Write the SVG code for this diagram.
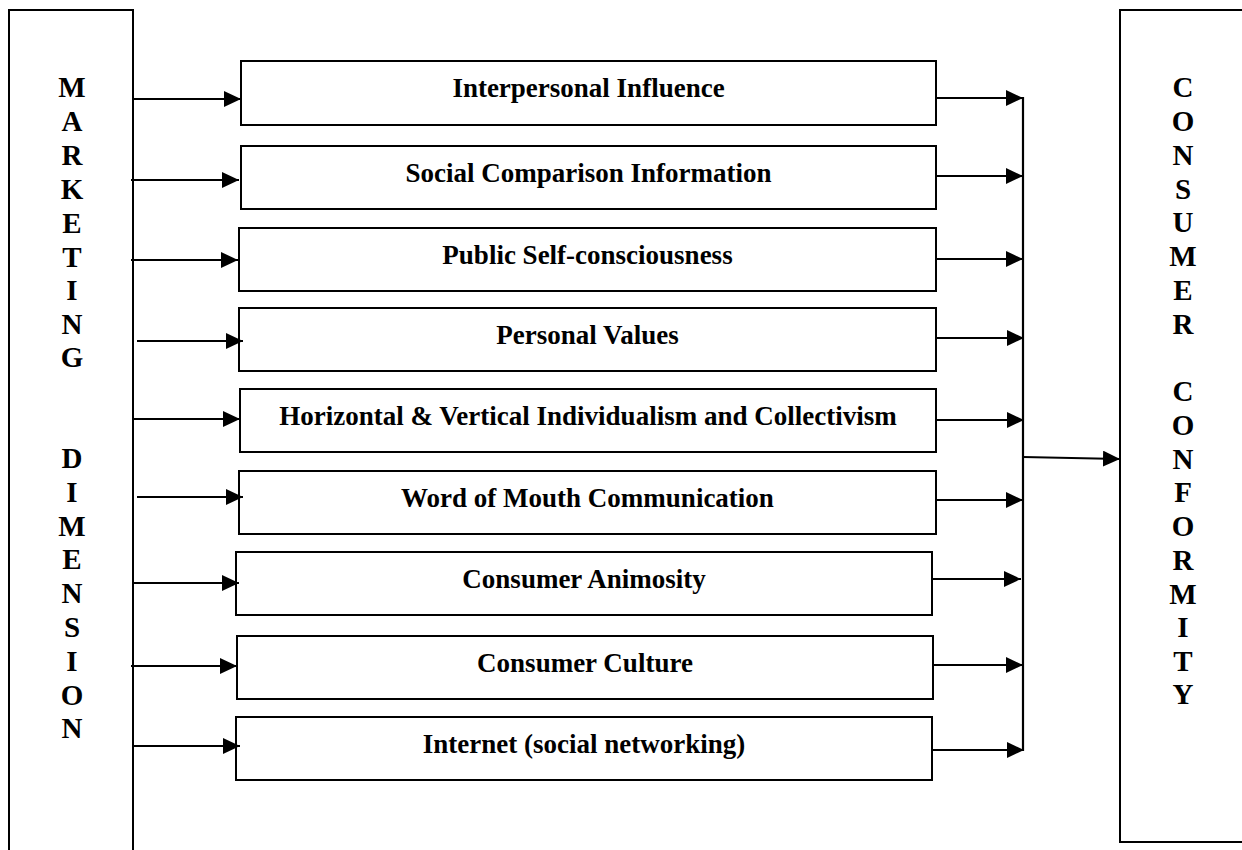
<svg xmlns="http://www.w3.org/2000/svg" width="1242" height="850" viewBox="0 0 1242 850">
  <style>
    .frame { fill: #ffffff; stroke: #000000; stroke-width: 2; }
    .label { font-family: "Liberation Serif", "Times New Roman", serif; font-weight: bold; font-size: 27px; fill: #000000; text-anchor: middle; }
    .col { font-family: "Liberation Serif", "Times New Roman", serif; font-weight: bold; font-size: 29px; fill: #000000; text-anchor: middle; }
    .wire { fill: none; stroke: #000000; stroke-width: 2.2; }
  </style>
  <defs>
    <marker id="arrow" markerUnits="userSpaceOnUse" markerWidth="18" markerHeight="17" refX="17" refY="8" orient="auto">
      <path d="M0,0 L17,8 L0,16 Z" fill="#000000"/>
    </marker>
  </defs>

  <rect width="1242" height="850" fill="#ffffff"/>

  <!-- Source column -->
  <g id="marketing-dimension">
    <rect class="frame" x="9" y="10" width="124" height="850"/>
    <text class="col" x="72" y="97">M</text>
    <text class="col" x="72" y="131">A</text>
    <text class="col" x="72" y="165">R</text>
    <text class="col" x="72" y="199">K</text>
    <text class="col" x="72" y="233">E</text>
    <text class="col" x="72" y="267">T</text>
    <text class="col" x="72" y="300">I</text>
    <text class="col" x="72" y="334">N</text>
    <text class="col" x="72" y="367">G</text>
    <text class="col" x="72" y="468">D</text>
    <text class="col" x="72" y="502">I</text>
    <text class="col" x="72" y="536">M</text>
    <text class="col" x="72" y="569">E</text>
    <text class="col" x="72" y="603">N</text>
    <text class="col" x="72" y="637">S</text>
    <text class="col" x="72" y="671">I</text>
    <text class="col" x="72" y="705">O</text>
    <text class="col" x="72" y="738">N</text>
  </g>

  <!-- Target column -->
  <g id="consumer-conformity">
    <rect class="frame" x="1120" y="10" width="140" height="832"/>
    <text class="col" x="1183" y="97">C</text>
    <text class="col" x="1183" y="131">O</text>
    <text class="col" x="1183" y="165">N</text>
    <text class="col" x="1183" y="199">S</text>
    <text class="col" x="1183" y="232">U</text>
    <text class="col" x="1183" y="266">M</text>
    <text class="col" x="1183" y="300">E</text>
    <text class="col" x="1183" y="334">R</text>
    <text class="col" x="1183" y="401">C</text>
    <text class="col" x="1183" y="435">O</text>
    <text class="col" x="1183" y="469">N</text>
    <text class="col" x="1183" y="502">F</text>
    <text class="col" x="1183" y="536">O</text>
    <text class="col" x="1183" y="570">R</text>
    <text class="col" x="1183" y="604">M</text>
    <text class="col" x="1183" y="637">I</text>
    <text class="col" x="1183" y="671">T</text>
    <text class="col" x="1183" y="704">Y</text>
  </g>

  <!-- Factor boxes -->
  <g id="interpersonal-influence">
    <rect class="frame" x="241" y="61" width="695" height="64"/>
    <text class="label" x="588.5" y="97">Interpersonal Influence</text>
  </g>
  <g id="social-comparison-information">
    <rect class="frame" x="241" y="146" width="695" height="63"/>
    <text class="label" x="588.5" y="182">Social Comparison Information</text>
  </g>
  <g id="public-self-consciousness">
    <rect class="frame" x="239" y="228" width="697" height="63"/>
    <text class="label" x="587.5" y="264">Public Self-consciousness</text>
  </g>
  <g id="personal-values">
    <rect class="frame" x="239" y="308" width="697" height="63"/>
    <text class="label" x="587.5" y="344">Personal Values</text>
  </g>
  <g id="individualism-collectivism">
    <rect class="frame" x="240" y="389" width="696" height="63"/>
    <text class="label" x="588" y="425">Horizontal &amp; Vertical Individualism and Collectivism</text>
  </g>
  <g id="word-of-mouth">
    <rect class="frame" x="239" y="471" width="697" height="63"/>
    <text class="label" x="587.5" y="507">Word of Mouth Communication</text>
  </g>
  <g id="consumer-animosity">
    <rect class="frame" x="236" y="552" width="696" height="63"/>
    <text class="label" x="584" y="588">Consumer Animosity</text>
  </g>
  <g id="consumer-culture">
    <rect class="frame" x="237" y="636" width="696" height="63"/>
    <text class="label" x="585" y="672">Consumer Culture</text>
  </g>
  <g id="internet-social-networking">
    <rect class="frame" x="236" y="717" width="696" height="63"/>
    <text class="label" x="584" y="753">Internet (social networking)</text>
  </g>

  <!-- Connectors -->
  <g id="connectors">
    <line class="wire" x1="133" y1="99" x2="241" y2="99" marker-end="url(#arrow)"/>
    <line class="wire" x1="131" y1="180" x2="239" y2="180" marker-end="url(#arrow)"/>
    <line class="wire" x1="131" y1="260" x2="238" y2="260" marker-end="url(#arrow)"/>
    <line class="wire" x1="137" y1="341" x2="243" y2="341" marker-end="url(#arrow)"/>
    <line class="wire" x1="133" y1="419" x2="240" y2="419" marker-end="url(#arrow)"/>
    <line class="wire" x1="137" y1="497" x2="243" y2="497" marker-end="url(#arrow)"/>
    <line class="wire" x1="133" y1="583" x2="239" y2="583" marker-end="url(#arrow)"/>
    <line class="wire" x1="131" y1="666" x2="237" y2="666" marker-end="url(#arrow)"/>
    <line class="wire" x1="133" y1="746" x2="240" y2="746" marker-end="url(#arrow)"/>

    <line class="wire" x1="936" y1="98" x2="1023" y2="98" marker-end="url(#arrow)"/>
    <line class="wire" x1="936" y1="176" x2="1023" y2="176" marker-end="url(#arrow)"/>
    <line class="wire" x1="936" y1="259" x2="1023" y2="259" marker-end="url(#arrow)"/>
    <line class="wire" x1="936" y1="338" x2="1024" y2="338" marker-end="url(#arrow)"/>
    <line class="wire" x1="936" y1="420" x2="1024" y2="420" marker-end="url(#arrow)"/>
    <line class="wire" x1="936" y1="500" x2="1023" y2="500" marker-end="url(#arrow)"/>
    <line class="wire" x1="932" y1="579" x2="1021" y2="579" marker-end="url(#arrow)"/>
    <line class="wire" x1="933" y1="665" x2="1023" y2="665" marker-end="url(#arrow)"/>
    <line class="wire" x1="932" y1="750" x2="1024" y2="750" marker-end="url(#arrow)"/>

    <line class="wire" x1="1023" y1="97" x2="1023" y2="751"/>
    <line class="wire" x1="1023" y1="457" x2="1120" y2="459" marker-end="url(#arrow)"/>
  </g>
</svg>
